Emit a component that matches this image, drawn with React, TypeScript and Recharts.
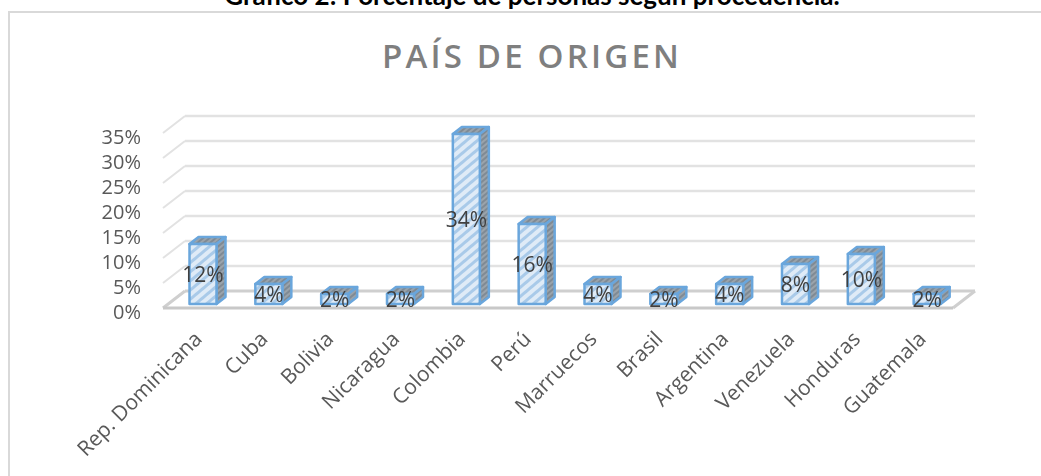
import { Bar, BarChart, CartesianGrid, LabelList, XAxis, YAxis } from 'recharts';

const categories = ['Rep. Dominicana', 'Cuba', 'Bolivia', 'Nicaragua', 'Colombia', 'Perú', 'Marruecos', 'Brasil', 'Argentina', 'Venezuela', 'Honduras', 'Guatemala'];
const percentages = [12, 4, 2, 2, 34, 16, 4, 2, 4, 8, 10, 2];
const yTicks = [0, 5, 10, 15, 20, 25, 30, 35];

const data = categories.map((name, i) => ({ name, value: percentages[i] }));

const FONT = '"Open Sans", sans-serif';
const DEPTH_X = 22;
const DEPTH_Y = 17;

// wall lines and the floor are offset from the front plane to fake the 3D box
function GridLine(props: any) {
  const { x1, x2, y1 } = props;
  const backY = y1 - DEPTH_Y;
  if (y1 > 300) {
    return (
      <g>
        <line x1={x1 + DEPTH_X} x2={x2 + DEPTH_X} y1={backY} y2={backY} stroke="#cfcfcf" strokeWidth={3} />
        <line x1={x1} x2={x1 + DEPTH_X} y1={y1} y2={backY} stroke="#cfcfcf" strokeWidth={3} />
        <line x1={x2} x2={x2 + DEPTH_X} y1={y1} y2={backY} stroke="#cfcfcf" strokeWidth={3} />
        <line x1={x1} x2={x2} y1={y1} y2={y1} stroke="#c8c8c8" strokeWidth={3} />
      </g>
    );
  }
  return (
    <g>
      <line x1={x1 + DEPTH_X} x2={x2 + DEPTH_X} y1={backY} y2={backY} stroke="#e2e2e2" strokeWidth={2.5} />
      <line x1={x1} x2={x1 + DEPTH_X} y1={y1} y2={backY} stroke="#e2e2e2" strokeWidth={2} />
    </g>
  );
}

function Bar3D(props: any) {
  const { x, y, width, height } = props;
  const left = x + 7.5;
  const right = left + width;
  const top = y - 4;
  const bottom = y + height - 4;
  const dx = 9;
  const dy = 7;
  return (
    <g stroke="#6aa6dc" strokeWidth={2.5} strokeLinejoin="round">
      <polygon points={`${left},${top} ${left + dx},${top - dy} ${right + dx},${top - dy} ${right},${top}`} fill="url(#hatchDark)" />
      <polygon points={`${right},${top} ${right + dx},${top - dy} ${right + dx},${bottom - dy} ${right},${bottom}`} fill="url(#hatchDark)" />
      <rect x={left} y={top} width={width} height={height} fill="url(#hatchLight)" />
    </g>
  );
}

function BarValue(props: any) {
  const { x, y, width, height, value } = props;
  return (
    <text x={x + 7.5 + width / 2} y={y + height / 2 - 4} dy={8} textAnchor="middle" fontFamily={FONT} fontSize={21} fill="#404040">
      {value}%
    </text>
  );
}

function CategoryTick(props: any) {
  const { x, y, payload } = props;
  const tx = x + 3;
  const ty = y + 20;
  return (
    <text x={tx} y={ty} transform={`rotate(-45 ${tx} ${ty})`} textAnchor="end" dy={6} fontFamily={FONT} fontSize={21} fill="#595959">
      {payload.value}
    </text>
  );
}

export default function App() {
  return (
    <div style={{ position: 'absolute', left: 0, top: 0, width: 1041, height: 476, overflow: 'hidden', background: '#fff' }}>
      <div style={{ position: 'absolute', left: 8, top: 11, right: 0, bottom: -4, borderLeft: '2px solid #d9d9d9', borderTop: '2px solid #d9d9d9' }} />
      <div style={{ position: 'absolute', left: 222, width: 620, top: -25, lineHeight: '40px', textAlign: 'center', fontFamily: 'Lato, sans-serif', fontWeight: 700, fontSize: 26, color: '#000', whiteSpace: 'nowrap' }}>
        Gráfico 2: Porcentaje de personas según procedencia.
      </div>
      <div style={{ position: 'absolute', left: 330, top: 33, width: 404, textAlign: 'center', fontFamily: FONT, fontWeight: 600, fontSize: 33, letterSpacing: 3.2, color: '#7f7f7f', whiteSpace: 'nowrap' }}>
        PAÍS DE ORIGEN
      </div>
      <div style={{ position: 'absolute', left: 0, top: 0, filter: 'blur(0.5px)' }}>
        <BarChart width={1041} height={476} data={data} barSize={27} margin={{ top: 133, right: 88, bottom: 108, left: 103 }}>
          <defs>
            <pattern id="hatchLight" width="7" height="7" patternUnits="userSpaceOnUse" patternTransform="rotate(-40)">
              <rect width="7" height="7" fill="#dfebf7" />
              <rect width="7" height="3" fill="#a9cae9" />
            </pattern>
            <pattern id="hatchDark" width="4" height="4" patternUnits="userSpaceOnUse" patternTransform="rotate(-40)">
              <rect width="4" height="4" fill="#9aa3ab" />
              <rect width="4" height="2" fill="#7f8a94" />
            </pattern>
          </defs>
          <CartesianGrid vertical={false} horizontal={GridLine} />
          <XAxis dataKey="name" interval={0} axisLine={false} tickLine={false} height={60} tick={CategoryTick} />
          <YAxis width={60} domain={[0, 35]} ticks={yTicks} interval={0} axisLine={false} tickLine={false} tickFormatter={(v: number) => `${v}%`} tick={{ fill: '#595959', fontSize: 20, fontFamily: FONT, dy: 4 }} tickMargin={16} />
          <Bar dataKey="value" shape={Bar3D} isAnimationActive={false}>
            <LabelList dataKey="value" content={BarValue} />
          </Bar>
        </BarChart>
      </div>
    </div>
  );
}
